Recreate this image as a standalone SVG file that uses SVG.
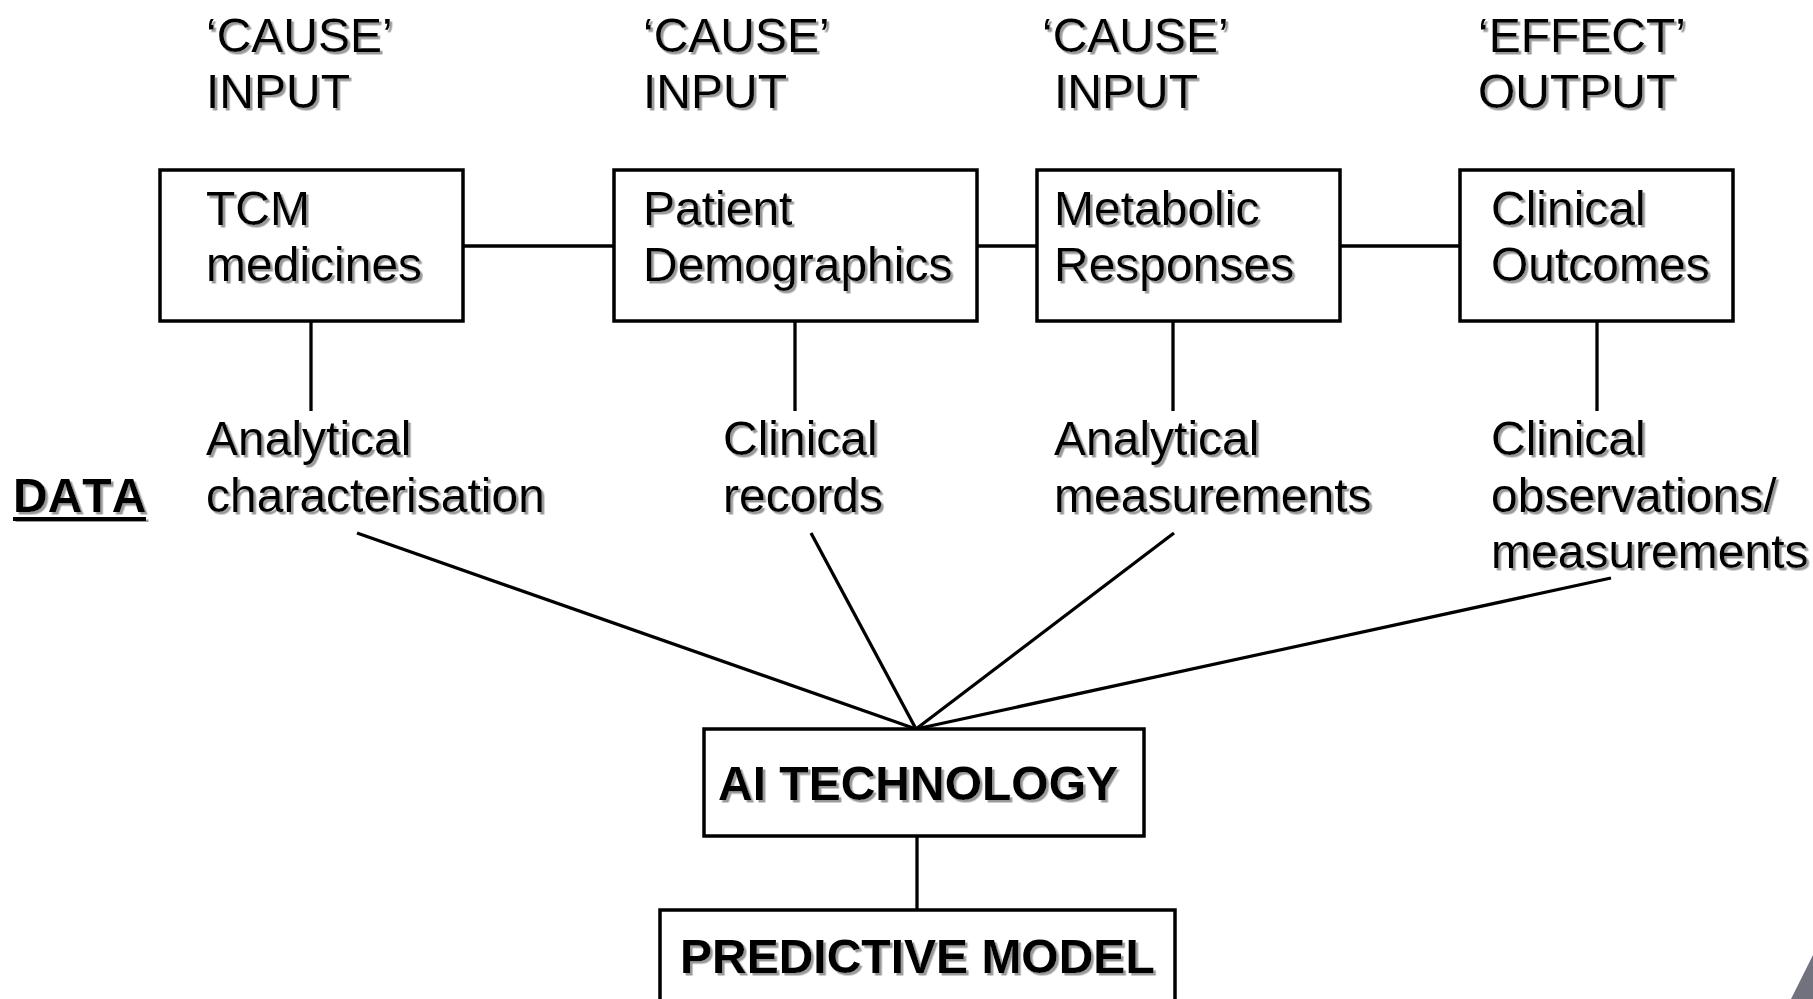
<svg xmlns="http://www.w3.org/2000/svg" width="1813" height="999" viewBox="0 0 1813 999">
<defs>
<filter id="sh" x="-5%" y="-20%" width="110%" height="140%">
<feDropShadow dx="2.5" dy="2.5" stdDeviation="0.6" flood-color="#9a9a9a" flood-opacity="1"/>
</filter>
</defs>
<style>
text{font-family:"Liberation Sans",Arial,sans-serif;font-size:48px;fill:#000;filter:url(#sh);font-kerning:none}
.b{font-weight:bold}
.box{fill:#fff;stroke:#000;stroke-width:3.5}
.ln{stroke:#000;stroke-width:3.3;fill:none;stroke-linecap:butt}
</style>
<rect width="1813" height="999" fill="#fff"/>
<g id="headers">
<text x="206" y="52">‘CAUSE’</text>
<text x="206" y="108">INPUT</text>
<text x="643" y="52">‘CAUSE’</text>
<text x="643" y="108">INPUT</text>
<text x="1042" y="52">‘CAUSE’</text>
<text x="1054" y="108">INPUT</text>
<text x="1478" y="52">‘EFFECT’</text>
<text x="1478" y="108">OUTPUT</text>
</g>
<g id="connectors">
<line class="ln" x1="463" y1="246" x2="614" y2="246"/>
<line class="ln" x1="977" y1="246" x2="1037" y2="246"/>
<line class="ln" x1="1340" y1="246" x2="1460" y2="246"/>
<line class="ln" x1="311" y1="322" x2="311" y2="411"/>
<line class="ln" x1="795" y1="322" x2="795" y2="411"/>
<line class="ln" x1="1173" y1="322" x2="1173" y2="411"/>
<line class="ln" x1="1597" y1="322" x2="1597" y2="411"/>
<line class="ln" x1="357" y1="533" x2="916" y2="729"/>
<line class="ln" x1="811" y1="533" x2="916" y2="729"/>
<line class="ln" x1="1174" y1="533" x2="916" y2="729"/>
<line class="ln" x1="1611" y1="578" x2="916" y2="729"/>
<line class="ln" x1="917" y1="836" x2="917" y2="910"/>
</g>
<g id="node-tcm">
<rect class="box" x="160" y="170" width="303" height="151"/>
<text x="206" y="225">TCM</text>
<text x="206" y="281">medicines</text>
</g>
<g id="node-patient">
<rect class="box" x="614" y="170" width="363" height="151"/>
<text x="643" y="225">Patient</text>
<text x="643" y="281">Demographics</text>
</g>
<g id="node-metabolic">
<rect class="box" x="1037" y="170" width="303" height="151"/>
<text x="1054" y="225">Metabolic</text>
<text x="1054" y="281">Responses</text>
</g>
<g id="node-outcomes">
<rect class="box" x="1460" y="170" width="273" height="151"/>
<text x="1491" y="225">Clinical</text>
<text x="1491" y="281">Outcomes</text>
</g>
<g id="data-label">
<text class="b" x="13" y="512">DATA</text>
<rect x="13" y="517" width="133" height="4" fill="#000" filter="url(#sh)"/>
</g>
<g id="data-analytical-char">
<text x="206" y="455">Analytical</text>
<text x="206" y="512">characterisation</text>
</g>
<g id="data-clinical-records">
<text x="723" y="455">Clinical</text>
<text x="723" y="512">records</text>
</g>
<g id="data-analytical-meas">
<text x="1054" y="455">Analytical</text>
<text x="1054" y="512">measurements</text>
</g>
<g id="data-clinical-obs">
<text x="1491" y="455">Clinical</text>
<text x="1491" y="512">observations/</text>
<text x="1491" y="568">measurements</text>
</g>
<g id="node-ai">
<rect class="box" x="704" y="729" width="440" height="107"/>
<text class="b" x="718" y="800">AI TECHNOLOGY</text>
</g>
<g id="node-predictive">
<rect class="box" x="660" y="910" width="515" height="110"/>
<text class="b" x="680" y="973">PREDICTIVE MODEL</text>
</g>
<polygon points="1813,955 1813,999 1791,999" fill="#72727e"/>
</svg>
